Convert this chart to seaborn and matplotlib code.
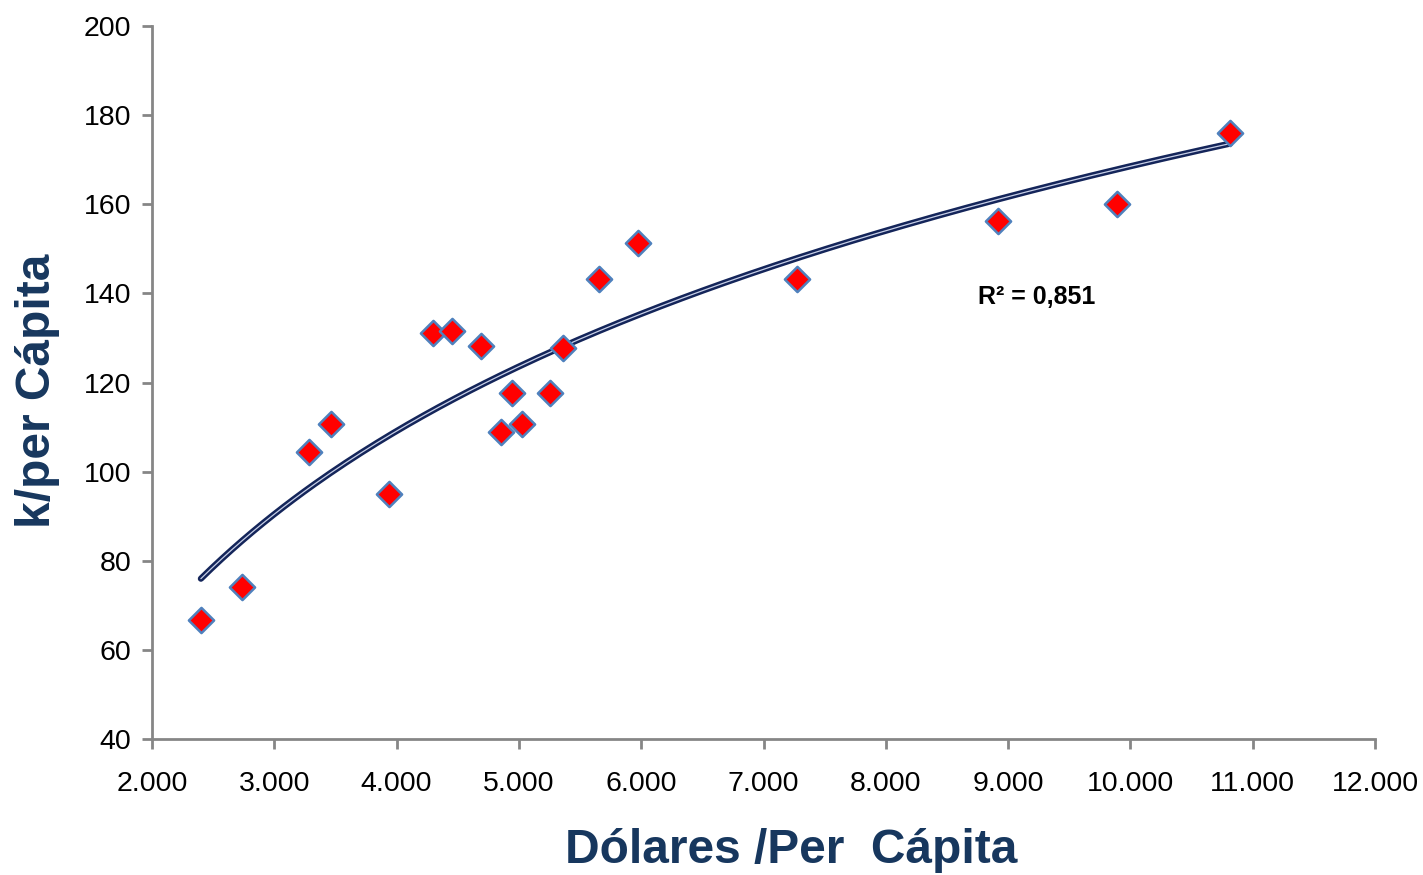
import numpy as np
import pandas as pd
import matplotlib
matplotlib.use('Agg')
import matplotlib.pyplot as plt
import seaborn as sns
from matplotlib.ticker import FuncFormatter

# datos
dolares = [2400, 2736, 3284, 3464, 3938, 4298, 4453, 4690, 4854, 4944,
           5025, 5254, 5361, 5655, 5974, 7274, 8917, 9890, 10814]
kper = [66.7, 74.1, 104.4, 110.7, 95.0, 131.1, 131.6, 128.2, 108.9, 117.6,
        110.7, 117.6, 127.7, 143.2, 151.3, 143.2, 156.2, 160.1, 176.0]
r2_texto = 'R² = 0,851'

df = pd.DataFrame({'dolares': dolares, 'kper': kper})

# ajuste logaritmico
a, b = np.polyfit(np.log(df['dolares']), df['kper'], 1)
xs = np.linspace(min(dolares), max(dolares), 200)
tendencia = pd.DataFrame({'x': xs, 'y': a * np.log(xs) + b})

sns.set_style('white')
plt.rcParams['font.family'] = ['Liberation Sans', 'DejaVu Sans']

fig = plt.figure(figsize=(14.23, 8.75), dpi=100)
ax = fig.add_axes([0.1068, 0.1554, 0.8595, 0.8149])

sns.lineplot(data=tendencia, x='x', y='y', color='#14255a', linewidth=4.5, ax=ax, zorder=2,
             solid_capstyle='round')
sns.lineplot(data=tendencia, x='x', y='y', color='#c8d0e8', linewidth=0.9, ax=ax, zorder=3)
sns.scatterplot(data=df, x='dolares', y='kper', marker='D', s=165, color='#ff0000',
                edgecolor='#4f81bd', linewidth=1.8, ax=ax, zorder=4)

ax.text(8750, 139.2, r2_texto, fontsize=18, fontweight='bold', va='center', ha='left',
        color='black')

ax.set_xlim(2000, 12000)
ax.set_ylim(40, 200)
ax.set_xticks(np.arange(2000, 12001, 1000))
ax.set_yticks(np.arange(40, 201, 20))
ax.xaxis.set_major_formatter(FuncFormatter(lambda v, p: f'{int(v):,}'.replace(',', '.')))

for lado in ['top', 'right']:
    ax.spines[lado].set_visible(False)
for lado in ['left', 'bottom']:
    ax.spines[lado].set_color('#868686')
    ax.spines[lado].set_linewidth(2)
ax.tick_params(axis='both', direction='out', length=7, width=2, color='#868686',
               labelsize=20.5, labelcolor='black', left=True, bottom=True)
ax.tick_params(axis='x', pad=16)
ax.tick_params(axis='y', pad=8)

ax.set_xlabel('Dólares /Per  Cápita', fontsize=34.5, fontweight='bold', color='#17375e')
ax.set_ylabel('k/per Cápita', fontsize=34.5, fontweight='bold', color='#17375e')
ax.xaxis.set_label_coords(0.523, -0.156)
ax.xaxis.label.set_va('center')
ax.yaxis.set_label_coords(-0.094, 0.488)
ax.yaxis.label.set_va('center')

fig.savefig('out.png', dpi=100)
